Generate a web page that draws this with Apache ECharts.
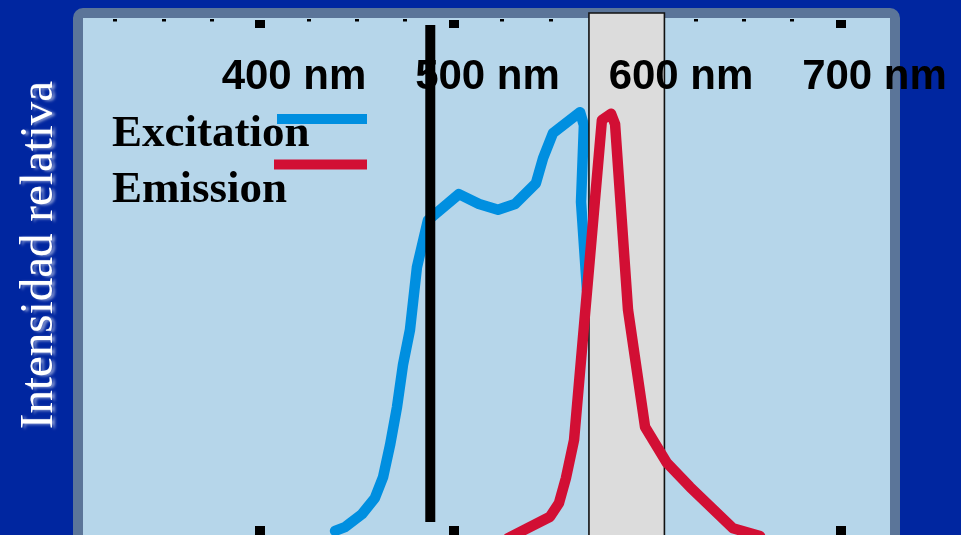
<!DOCTYPE html>
<html>
<head>
<meta charset="utf-8">
<title>Excitation / Emission</title>
<script src="https://cdn.jsdelivr.net/npm/echarts@6/dist/echarts.min.js"></script>
<style>
  html, body { margin: 0; padding: 0; background: #0026a0; }
  #chart { width: 961px; height: 535px; }
</style>
</head>
<body>
<div id="chart"></div>
<script>
// Wavelength axis (nm)
const wavelengthTicks = [400, 500, 600, 700];
const minorTicks = [325, 350, 375, 425, 450, 475, 525, 550, 575, 625, 650, 675];

// Excitation spectrum (relative intensity)
const excitationNm  = [438.8, 443.9, 452.7, 459.4, 463.6, 467.2, 470.8, 473.9, 477.5, 481.1, 486.8, 502.8, 513.2, 523.0, 531.8, 542.6, 546.3, 551.4, 565.4, 567.4, 565.9, 569.0];
const excitationVal = [0.8, 1.5, 4.0, 7.1, 11.1, 17.2, 24.5, 32.6, 39.3, 51.3, 60.3, 65.3, 63.4, 62.3, 63.4, 67.4, 72.2, 77.0, 81.0, 78.5, 63.8, 46.9];

// Emission spectrum (relative intensity)
const emissionNm  = [528.2, 549.9, 554.5, 558.1, 562.3, 576.7, 581.4, 583.5, 590.2, 599.0, 610.3, 622.2, 644.4, 658.4];
const emissionVal = [-0.6, 3.5, 6.1, 10.9, 18.2, 79.5, 80.7, 78.7, 43.1, 20.7, 13.8, 9.2, 1.3, -0.2];

// 488 nm laser line and the detection filter window
const laserNm = 488;
const laserSpan = [2.5, 97.7];
const filterBand = [570, 609];

const xMin = 300, xMax = 750;
const yMin = 0, yMax = 100;

const zip = (xs, ys) => xs.map((x, i) => [x, ys[i]]);

const chart = echarts.init(document.getElementById('chart'), null, { renderer: 'canvas' });

const baseX = {
  type: 'value', min: xMin, max: xMax, gridIndex: 0,
  axisLine: { show: false, onZero: false },
  splitLine: { show: false },
  axisLabel: { show: false },
  axisTick: { show: false }
};

chart.setOption({
  animation: false,
  backgroundColor: '#0026a0',
  grid: { left: 66.5, right: 23.75, top: 13, bottom: 0 },
  xAxis: [
    // bottom major ticks
    Object.assign({}, baseX, {
      position: 'bottom', z: 0,
      axisTick: { show: true, inside: true, length: 9, customValues: wavelengthTicks,
                  lineStyle: { color: '#000', width: 10 } }
    }),
    // top major ticks
    Object.assign({}, baseX, {
      position: 'top', offset: -7, z: 0,
      axisTick: { show: true, inside: true, length: 8, customValues: wavelengthTicks,
                  lineStyle: { color: '#000', width: 10 } }
    }),
    // top minor ticks
    Object.assign({}, baseX, {
      position: 'top', offset: -6, z: 0,
      axisTick: { show: true, inside: true, length: 2.5, customValues: minorTicks,
                  lineStyle: { color: '#000', width: 4 } }
    }),
    // wavelength labels
    Object.assign({}, baseX, {
      position: 'top', z: 4,
      axisLabel: {
        show: true, inside: true, margin: 43, customValues: wavelengthTicks,
        formatter: v => v + ' nm',
        color: '#000', fontFamily: '"Liberation Sans", Arial, sans-serif',
        fontWeight: 'bold', fontSize: 42, padding: [0, 0, 0, 68]
      }
    })
  ],
  yAxis: { type: 'value', min: yMin, max: yMax, show: false },
  series: [
    {
      name: 'Excitation', type: 'line', z: 2, clip: false, silent: true,
      symbol: 'none', data: zip(excitationNm, excitationVal),
      lineStyle: { color: '#008fe0', width: 10.5, cap: 'round', join: 'round' }
    },
    {
      name: 'Filtro', type: 'custom', z: 3, clip: false, silent: true,
      data: [filterBand],
      renderItem: (params, api) => {
        const p0 = api.coord([api.value(0), yMax]);
        const p1 = api.coord([api.value(1), yMin]);
        return {
          type: 'rect',
          shape: { x: p0[0], y: p0[1], width: p1[0] - p0[0], height: p1[1] - p0[1] + 10 },
          style: { fill: '#dcdcdc', stroke: '#111', lineWidth: 1.6 }
        };
      }
    },
    {
      name: 'Emission', type: 'line', z: 5, clip: false, silent: true,
      symbol: 'none', data: zip(emissionNm, emissionVal),
      lineStyle: { color: '#d20f34', width: 10.5, cap: 'round', join: 'round' }
    },
    {
      name: 'Laser', type: 'line', z: 6, clip: false, silent: true,
      symbol: 'none', data: laserSpan.map(v => [laserNm, v]),
      lineStyle: { color: '#000', width: 10, cap: 'butt' }
    }
  ],
  graphic: [
    {
      type: 'rect', z: -10, silent: true,
      shape: { x: 78, y: 13, width: 817, height: 528, r: 5 },
      style: { fill: '#b6d6ea', stroke: '#5b7599', lineWidth: 10 }
    },
    {
      type: 'text', z: 10, silent: true, x: 40, y: 255, rotation: Math.PI / 2,
      style: {
        text: 'Intensidad relativa', fill: '#ffffff',
        font: '47px "Liberation Serif", "Times New Roman", serif',
        align: 'center', verticalAlign: 'middle',
        textShadowColor: 'rgba(150,165,215,0.9)', textShadowBlur: 3,
        textShadowOffsetX: 3, textShadowOffsetY: 1
      }
    },
    {
      type: 'text', z: 10, silent: true, x: 112, y: 134,
      style: { text: 'Excitation', fill: '#000', font: 'bold 45px "Liberation Serif", "Times New Roman", serif',
               align: 'left', verticalAlign: 'middle' }
    },
    {
      type: 'text', z: 10, silent: true, x: 112, y: 190,
      style: { text: 'Emission', fill: '#000', font: 'bold 45px "Liberation Serif", "Times New Roman", serif',
               align: 'left', verticalAlign: 'middle' }
    },
    {
      type: 'line', z: 11, silent: true,
      shape: { x1: 277, y1: 119, x2: 367, y2: 119 },
      style: { stroke: '#008fe0', lineWidth: 10 }
    },
    {
      type: 'line', z: 11, silent: true,
      shape: { x1: 274, y1: 164.5, x2: 367, y2: 164.5 },
      style: { stroke: '#d20f34', lineWidth: 10 }
    }
  ]
});
</script>
</body>
</html>
